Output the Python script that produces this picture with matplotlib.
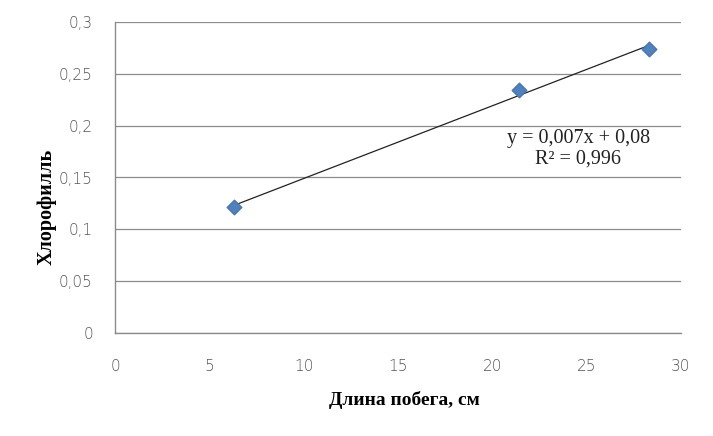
import matplotlib
matplotlib.use("Agg")
import matplotlib.pyplot as plt
import numpy as np

shoot_length = [6.3, 21.4, 28.3]
chlorophyll = [0.1215, 0.234, 0.274]
x_ticks = [0, 5, 10, 15, 20, 25, 30]
y_ticks = [0, 0.05, 0.1, 0.15, 0.2, 0.25, 0.3]
y_tick_labels = ["0", "0,05", "0,1", "0,15", "0,2", "0,25", "0,3"]
equation = "y = 0,007x + 0,08"
r2_text = "R² = 0,996"

fig = plt.figure(figsize=(7.13, 4.36), dpi=100)
ax = fig.add_axes([115/713, 1-333/436, (681-115)/713, (333-22)/436])

x = np.array(shoot_length)
y = np.array(chlorophyll)
k, b = np.polyfit(x, y, 1)
xs = np.array([x.min(), x.max()])
ax.plot(xs, k*xs + b, color="#222222", lw=0.9, zorder=2)
ax.scatter(x, y, marker="D", s=55, color="#4F81BD", edgecolor="#4A76AE", zorder=3)

ax.set_xlim(0, 30)
ax.set_ylim(0, 0.3)
ax.set_xticks(x_ticks)
ax.set_xticklabels([str(t) for t in x_ticks])
ax.set_yticks(y_ticks)
ax.set_yticklabels(y_tick_labels)
ax.grid(axis="y", color="#8c8c8c", lw=0.9)
ax.set_axisbelow(True)
for s in ["top", "right"]:
    ax.spines[s].set_visible(False)
for s in ["left", "bottom"]:
    ax.spines[s].set_color("#8c8c8c")
    ax.spines[s].set_linewidth(1.0)
ax.tick_params(length=0, labelsize=11, labelcolor="#555555")
ax.tick_params(axis="y", pad=16)
ax.tick_params(axis="x", pad=19)
for lab in ax.get_xticklabels() + ax.get_yticklabels():
    lab.set_family("DejaVu Sans")
    lab.set_fontweight("light")

ax.set_xlabel("Длина побега, см", family="Liberation Serif", fontweight="bold",
              fontsize=14)
ax.xaxis.set_label_coords(0.512, -0.185)
ax.set_ylabel("Хлорофилль", family="Liberation Serif", fontweight="bold",
              fontsize=14.5)
ax.yaxis.set_label_coords(-0.103, 0.405)

ax.text(24.55, 0.188, equation, family="Liberation Serif", fontsize=14.5,
        ha="center", va="center", color="#222222")
ax.text(24.55, 0.168, r2_text, family="Liberation Serif", fontsize=14.5,
        ha="center", va="center", color="#222222")

fig.savefig("out.png", dpi=100)
